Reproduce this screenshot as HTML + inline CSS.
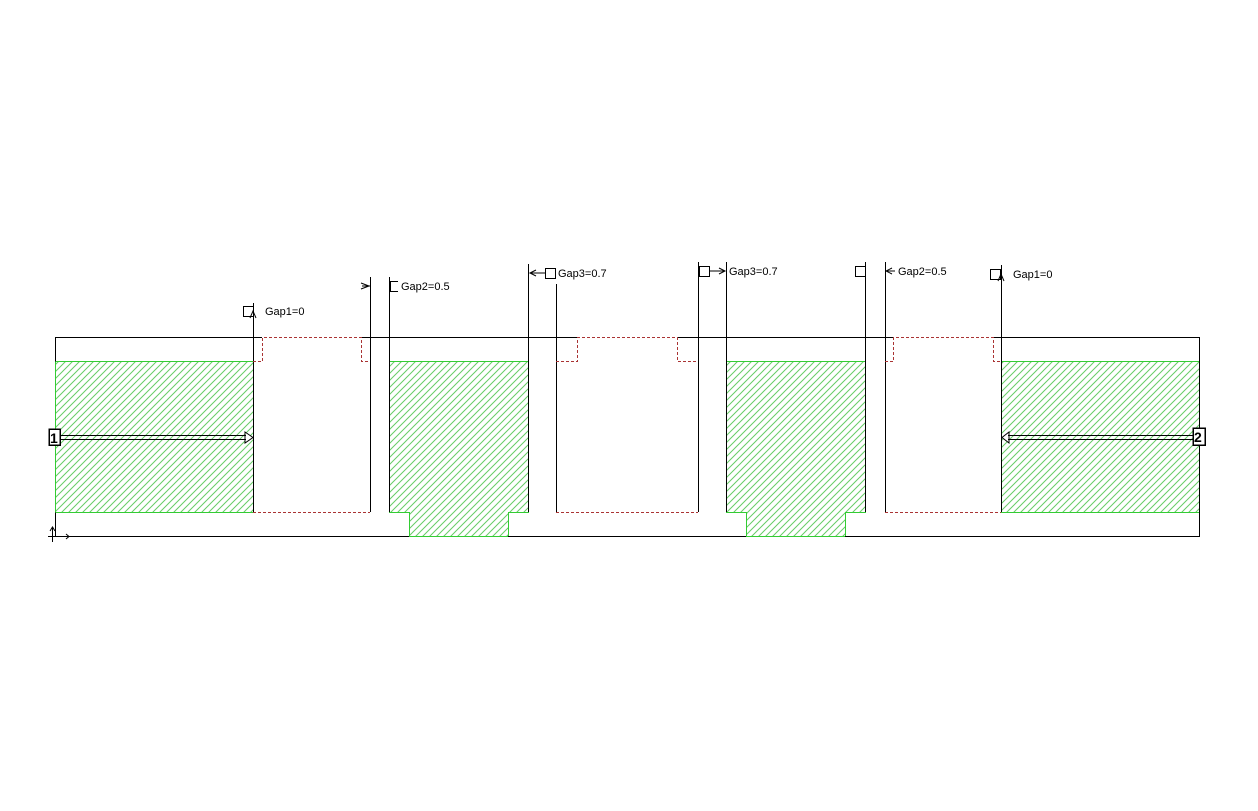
<!DOCTYPE html>
<html><head><meta charset="utf-8"><style>html,body{margin:0;padding:0;background:#fff}svg{display:block}</style></head><body>
<svg width="1258" height="811" xmlns="http://www.w3.org/2000/svg" shape-rendering="crispEdges">
<defs>
<pattern id="h" patternUnits="userSpaceOnUse" width="7" height="7">
<path d="M-1,8 L8,-1 M-1,1 L1,-1 M6,8 L8,6" stroke="#6c6" stroke-width="1" shape-rendering="auto"/>
</pattern>
</defs>
<g fill="url(#h)" stroke="#3c3" stroke-width="1">
<rect x="55.5" y="361.5" width="198" height="151"/>
<path d="M389.5,361.5 H528.5 V512.5 H508.5 V536.5 H409.5 V512.5 H389.5 Z"/>
<path d="M726.5,361.5 H865.5 V512.5 H845.5 V536.5 H746.5 V512.5 H726.5 Z"/>
<rect x="1001.5" y="361.5" width="198" height="151"/>
</g>
<g stroke="#000" stroke-width="1" fill="none">
<path d="M55.5,361.5 V337.5 H262"/>
<path d="M361,337.5 H577"/>
<path d="M677,337.5 H893"/>
<path d="M993,337.5 H1199.5 V536.5 H845"/>
<path d="M55.5,512.5 V536.5 H409"/>
<path d="M508,536.5 H746"/>
<line x1="253.5" y1="303" x2="253.5" y2="512"/>
<line x1="370.5" y1="277" x2="370.5" y2="512"/>
<line x1="389.5" y1="277" x2="389.5" y2="512"/>
<line x1="528.5" y1="264" x2="528.5" y2="512"/>
<line x1="556.5" y1="284" x2="556.5" y2="512"/>
<line x1="698.5" y1="262" x2="698.5" y2="512"/>
<line x1="726.5" y1="262" x2="726.5" y2="512"/>
<line x1="865.5" y1="262" x2="865.5" y2="512"/>
<line x1="885.5" y1="262" x2="885.5" y2="512"/>
<line x1="1001.5" y1="265" x2="1001.5" y2="512"/>
</g>
<g stroke="#a33" stroke-width="1" fill="none" stroke-dasharray="3,2">
<path d="M253,361.5 H262.5 V337.5 H361.5 V361.5 H370"/>
<path d="M556,361.5 H577.5 V337.5 H677.5 V361.5 H698"/>
<path d="M885,361.5 H893.5 V337.5 H993.5 V361.5 H1001"/>
<line x1="253" y1="512.5" x2="370" y2="512.5"/>
<line x1="556" y1="512.5" x2="698" y2="512.5"/>
<line x1="885" y1="512.5" x2="1001" y2="512.5"/>
</g>
<g stroke="#000" stroke-width="1" fill="#fff">
<rect x="243.5" y="306.5" width="10" height="10"/>
<path d="M398,281.5 H390.5 V291.5 H398" fill="none"/>
<rect x="545.5" y="268.5" width="10" height="10"/>
<rect x="699.5" y="266.5" width="10" height="10"/>
<rect x="855.5" y="266.5" width="10" height="10"/>
<rect x="990.5" y="269.5" width="10" height="10"/>
</g>
<g stroke="#000" stroke-width="1" fill="none" shape-rendering="auto">
<path d="M250,318 L253,311 L256,318"/>
<path d="M998,281 L1001,274 L1004,281"/>
<path d="M361,283 L369,286 L361,289 M362,286 H370"/>
<path d="M545,273 H530 M536,270 L530,273 L536,276"/>
<path d="M709,271 H725 M719,268 L725,271 L719,274"/>
<path d="M886,271 H895 M892,268 L886,271 L892,274"/>
<path d="M60,435.5 H246 M60,439.5 H246 M245,432 L253,437.5 L245,443 Z" fill="#fff"/>
<path d="M1193,435.5 H1008 M1193,439.5 H1008 M1009,432 L1002,437.5 L1009,443 Z" fill="#fff"/>
<path d="M52.5,528 V542 M50,531 L52.5,527 L55,531 M48,536.5 H69 M66,534 L69,536.5 L66,539"/>
</g>
<g stroke="#000" stroke-width="1.5" fill="#fff">
<rect x="49" y="429" width="11" height="16"/>
<rect x="1193" y="428" width="12" height="17"/>
</g>
<g font-family="Liberation Sans, sans-serif" font-size="11" fill="#000">
<text x="265" y="315">Gap1=0</text>
<text x="401" y="290">Gap2=0.5</text>
<text x="558" y="277">Gap3=0.7</text>
<text x="729" y="275">Gap3=0.7</text>
<text x="898" y="275">Gap2=0.5</text>
<text x="1013" y="278">Gap1=0</text>
<text x="50" y="443" font-size="14" font-weight="bold">1</text>
<text x="1194" y="442" font-size="14" font-weight="bold">2</text>
</g>
</svg>
</body></html>
